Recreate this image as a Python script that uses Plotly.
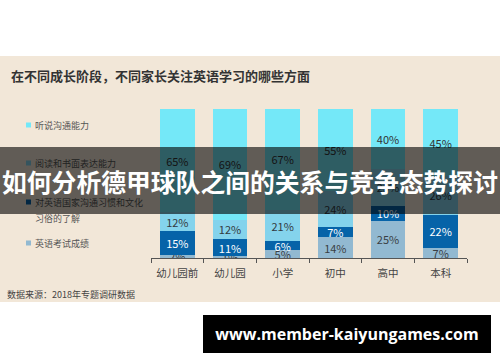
import plotly.graph_objects as go

# ---------------- data ----------------
categories = ['幼儿园前', '幼儿园', '小学', '初中', '高中', '本科']
exam_scores = [2, 1, 5, 14, 25, 7]          # 英语考试成绩
culture_knowledge = [15, 11, 6, 7, 10, 22]  # 对英语国家沟通习惯和文化习俗的了解
reading_writing = [12, 12, 21, 24, 25, 26]  # 阅读和书面表达能力
listening_speaking = [65, 69, 67, 55, 40, 45]  # 听说沟通能力

series_names = ['英语考试成绩', '对英语国家沟通习惯和文化习俗的了解', '阅读和书面表达能力', '听说沟通能力']
series_values = [exam_scores, culture_knowledge, reading_writing, listening_speaking]
series_colors = ['#92b9d1', '#0663a8', '#84d3ec', '#74e8f8']
label_colors = ['#3a3f44', '#ffffff', '#333a40', '#333333']

# ---------------- geometry helpers ----------------
W_PX, H_PX = 500, 362
L, R, T, B = 151, 467, 109, 258   # plot area in pixels


def px(x):
    return (x - L) / (R - L)


def py(y):
    return (B - y) / (B - T)


FONT = 'Noto Sans CJK SC'

fig = go.Figure()
for name, vals, col, lc in zip(series_names, series_values, series_colors, label_colors):
    fig.add_trace(go.Bar(
        x=categories, y=vals, name=name,
        marker=dict(color=col, line=dict(width=0)),
        text=[f'{v}%' for v in vals],
        textposition='inside', insidetextanchor='middle',
        constraintext='none',
        textfont=dict(family=FONT, size=11, color=lc),
        showlegend=False,
    ))

fig.update_layout(
    width=W_PX, height=H_PX,
    margin=dict(l=L, r=W_PX - R, t=T, b=H_PX - B, pad=0),
    paper_bgcolor='white', plot_bgcolor='rgba(0,0,0,0)',
    barmode='stack', barnorm='percent', bargap=0.34,
    font=dict(family=FONT),
)
fig.update_xaxes(
    type='category', range=[-0.5, 5.5], showgrid=False,
    showline=True, linecolor='#555555', linewidth=1,
    ticks='outside', tickson='boundaries', ticklen=4, tickcolor='#555555',
    tickfont=dict(family=FONT, size=10.5, color='#444444'),
    ticklabelstandoff=5,
)
fig.update_yaxes(range=[0, 100], visible=False, showgrid=False)

shapes = [
    # beige panel
    dict(type='rect', xref='paper', yref='paper', layer='below',
         x0=px(0), x1=px(500), y0=py(302), y1=py(56),
         fillcolor='#f2e7d8', line=dict(width=0)),
]
legend_items = [
    (125, '听说沟通能力', '#74e8f8'),
    (163, '阅读和书面表达能力', '#84d3ec'),
    (202, '对英语国家沟通习惯和文化', '#0663a8'),
    (243, '英语考试成绩', '#92b9d1'),
]
for yy, _, col in legend_items:
    shapes.append(dict(type='rect', xref='paper', yref='paper', layer='above',
                       x0=px(26), x1=px(31), y0=py(yy + 2.5), y1=py(yy - 2.5),
                       fillcolor=col, line=dict(width=0)))

annotations = [
    dict(text='<b>在不同成长阶段，不同家长关注英语学习的哪些方面</b>',
         x=px(9), y=py(75), xanchor='left', yanchor='middle',
         font=dict(family=FONT, size=13, color='#333333')),
    dict(text='数据来源：2018年专题调研数据',
         x=px(5), y=py(294), xanchor='left', yanchor='middle',
         font=dict(family=FONT, size=9, color='#444444')),
]
for yy, txt, _ in legend_items:
    annotations.append(dict(text=txt, x=px(33), y=py(yy), xanchor='left', yanchor='middle',
                            font=dict(family=FONT, size=9, color='#555555')))
annotations.append(dict(text='习俗的了解', x=px(33), y=py(218), xanchor='left', yanchor='middle',
                        font=dict(family=FONT, size=9, color='#555555')))
# overlay banner
annotations.append(dict(text='<b>如何分析德甲球队之间的关系与竞争态势探讨</b>',
                        x=px(250), y=py(180.5), xanchor='center', yanchor='middle',
                        width=500, height=67, bgcolor='rgba(0,0,0,0.6)',
                        borderpad=0, borderwidth=0,
                        font=dict(family=FONT, size=24.8, color='white')))
# watermark
annotations.append(dict(text='<b>www.member-kaiyungames.com</b>',
                        x=px(347), y=py(334), xanchor='center', yanchor='middle',
                        width=288, height=38, bgcolor='black',
                        borderpad=0, borderwidth=0,
                        font=dict(family='Open Sans', size=16, color='white')))
for a in annotations:
    a.setdefault('xref', 'paper')
    a.setdefault('yref', 'paper')
    a.setdefault('showarrow', False)

fig.update_layout(shapes=shapes, annotations=annotations)
fig.write_html('out.html',
               config={'displayModeBar': False},
               post_script="document.body.style.margin='0';document.body.style.padding='0';")
